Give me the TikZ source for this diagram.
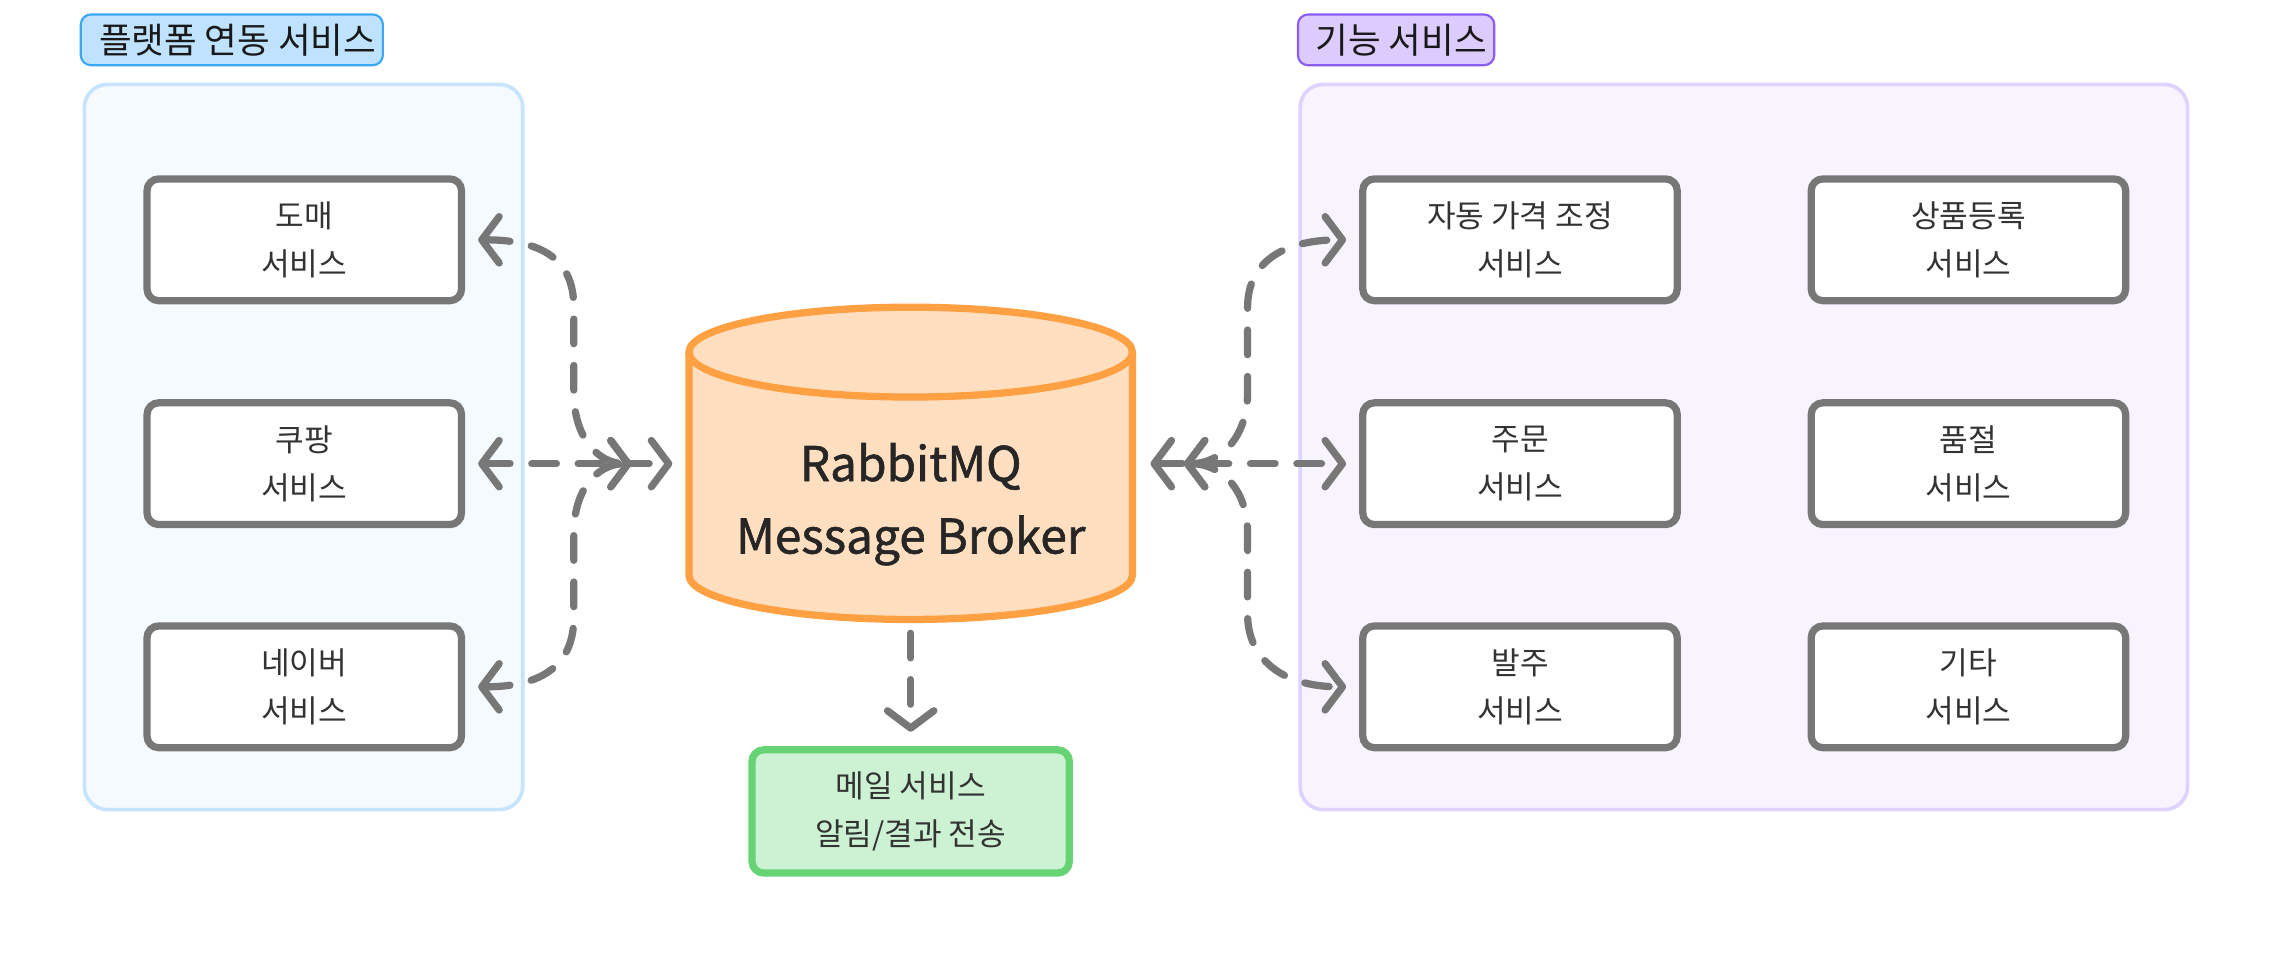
\documentclass[tikz,border=0pt]{standalone}
\usepackage{fontspec}
\setmainfont{Noto Sans CJK KR}
\newfontfamily\brokerfont[FakeBold=1.2]{Noto Sans CJK KR}
\usetikzlibrary{arrows.meta,calc}
\definecolor{linegray}{HTML}{777777}
\definecolor{txtgray}{HTML}{333333}
\definecolor{lpanelfill}{HTML}{F5FAFF}
\definecolor{lpaneldraw}{HTML}{C6E4FD}
\definecolor{lbadgefill}{HTML}{BFE3FF}
\definecolor{lbadgedraw}{HTML}{3BA8F5}
\definecolor{rpanelfill}{HTML}{F7F4FF}
\definecolor{rpaneldraw}{HTML}{DDD3FE}
\definecolor{rbadgefill}{HTML}{DCCCFE}
\definecolor{rbadgedraw}{HTML}{8B5CF6}
\definecolor{mqfill}{HTML}{FFDFC0}
\definecolor{mqdraw}{HTML}{FFA043}
\definecolor{mailfill}{HTML}{CCF2D3}
\definecolor{maildraw}{HTML}{66D474}
\tikzset{
  svc/.style={draw=linegray, line width=5pt, rounded corners=8pt, fill=white,
    minimum width=217pt, minimum height=84pt, inner sep=0pt, align=center,
    text=txtgray, font=\fontsize{21.5}{33.5}\selectfont},
  mailbox/.style={svc, draw=maildraw, fill=mailfill, minimum width=219pt, minimum height=85pt},
  badge/.style={line width=1.5pt, rounded corners=7pt, minimum height=35pt,
    inner sep=0pt, font=\fontsize{24.5}{28}\selectfont, text=black!90},
  panel/.style={line width=2.5pt, rounded corners=16pt},
  mqline/.style={draw=mqdraw, line width=5pt},
  mqtext/.style={inner sep=0pt, outer sep=0pt, minimum width=311pt, minimum height=220pt},
  link/.style={draw=linegray, line width=5pt, line cap=round, dash pattern=on 17pt off 15pt,
    >={Straight Barb[round,length=12pt,width=32pt]}},
}
\begin{document}
\begin{tikzpicture}[x=1pt,y=-1pt]
  \path[use as bounding box, fill=white] (0,0) rectangle (1568,665);
  % groups
  \draw[panel, fill=lpanelfill, draw=lpaneldraw] (58.25,58.25) rectangle (360.75,558.75);
  \draw[panel, fill=rpanelfill, draw=rpaneldraw] (897.25,58.25) rectangle (1509.75,558.75);
  \node[badge, fill=lbadgefill, draw=lbadgedraw, minimum width=208.5pt] (platform) at (160,27.5) {\hspace*{8pt}플랫폼 연동 서비스};
  \node[badge, fill=rbadgefill, draw=rbadgedraw, minimum width=135.5pt] (feature) at (963.5,27.5) {\hspace*{7pt}기능 서비스};
  % broker drum
  \fill[mqfill] (475.5,243) -- (475.5,397) .. controls (475.5,413.85) and (544,427.5) .. (628.5,427.5)
    .. controls (713,427.5) and (781.5,413.85) .. (781.5,397) -- (781.5,243) -- cycle;
  \draw[mqline] (475.5,243) -- (475.5,397) .. controls (475.5,413.85) and (544,427.5) .. (628.5,427.5)
    .. controls (713,427.5) and (781.5,413.85) .. (781.5,397) -- (781.5,243);
  \draw[mqline, fill=mqfill] (628.5,243) ellipse [x radius=153, y radius=31];
  \node[mqtext] (broker) at (628.5,320) {};
  \node[align=center, text=black!85, font=\brokerfont\fontsize{33}{50}\selectfont] (brokerlabel) at (628.5,348) {RabbitMQ\\Message Broker};
  % platform services
  \node[svc] (domae) at (210,165.5) {도매\\서비스};
  \node[svc] (coupang) at (210,320) {쿠팡\\서비스};
  \node[svc] (naver) at (210,474) {네이버\\서비스};
  % feature services
  \node[svc] (autoprice) at (1049,165.5) {자동 가격 조정\\서비스};
  \node[svc] (product) at (1358.5,165.5) {상품등록\\서비스};
  \node[svc] (order) at (1049,320) {주문\\서비스};
  \node[svc] (soldout) at (1358.5,320) {품절\\서비스};
  \node[svc] (purchase) at (1049,474) {발주\\서비스};
  \node[svc] (etc) at (1358.5,474) {기타\\서비스};
  \node[mailbox] (mail) at (628.5,560) {메일 서비스\\알림/결과 전송};
  % links
  \coordinate (lhub) at ($(broker.west)+(-37,0)$);
  \coordinate (rhub) at ($(broker.east)+(33,0)$);
  \draw[link,<->] ($(domae.east)+(9,0)$) .. controls +(48,0) and +(0,-30) .. (396,212)
    -- (396,271) .. controls +(0,30) and +(-24,0) .. (lhub);
  \draw[link,<->,shorten <=9pt,shorten >=9pt] (coupang) -- (broker);
  \draw[link,<->] ($(naver.east)+(9,0)$) .. controls +(48,0) and +(0,30) .. (396,426)
    -- (396,368) .. controls +(0,-30) and +(-24,0) .. (lhub);
  \draw[link,<->] (rhub) .. controls +(26,0) and +(0,30) .. (861,271)
    -- (861,212) .. controls +(0,-30) and +(-45,0) .. ($(autoprice.west)+(-9,0)$);
  \draw[link,<->,shorten <=10pt,shorten >=9pt] (broker) -- (order);
  \draw[link,<->] (rhub) .. controls +(26,0) and +(0,-30) .. (861,368)
    -- (861,424) .. controls +(0,30) and +(-45,0) .. ($(purchase.west)+(-9,0)$);
  \draw[link,->,shorten <=7pt,shorten >=10pt] (broker) -- (mail);
\end{tikzpicture}
\end{document}
